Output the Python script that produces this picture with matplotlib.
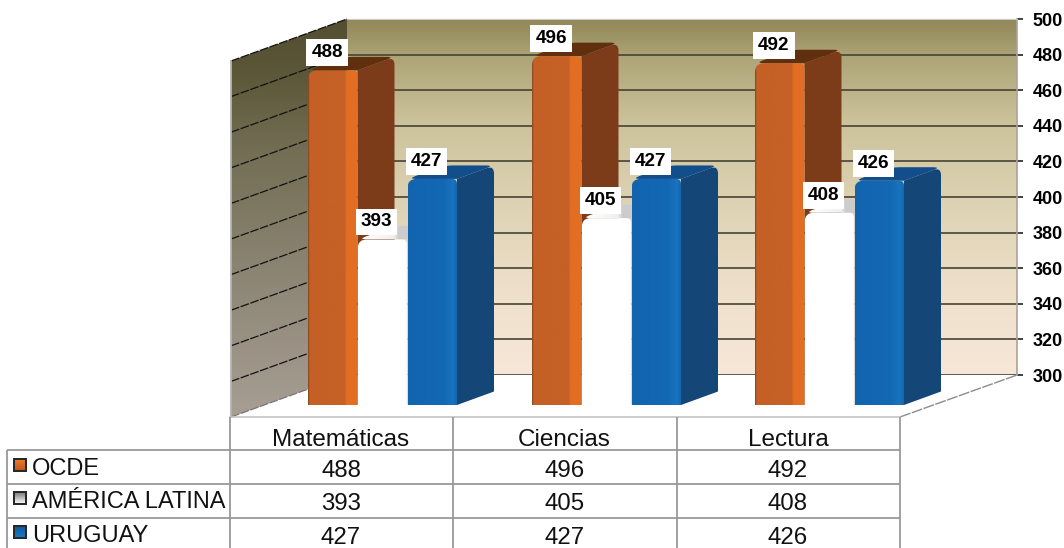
import numpy as np
import matplotlib
matplotlib.use("Agg")
import matplotlib.pyplot as plt
from matplotlib.colors import LinearSegmentedColormap as LSC
from matplotlib.patches import PathPatch, Rectangle
from matplotlib.path import Path

categories = ["Matemáticas", "Ciencias", "Lectura"]
series_names = ["OCDE", "AMÉRICA LATINA", "URUGUAY"]
ocde = [488, 496, 492]
america_latina = [393, 405, 408]
uruguay = [427, 427, 426]
y_ticks = list(range(300, 501, 20))

plt.rcParams["font.family"] = ["Liberation Sans", "DejaVu Sans"]
W, H = 1064, 548
K = 356 / 200            # pixels per value unit
BASE_PX = 405            # pixel row of the value 300 on the bar front plane
fig = plt.figure(figsize=(W / 100, H / 100), dpi=100, facecolor="white")


def rgb(*c):
    return tuple(i / 255 for i in c)


def cmap(stops):
    return LSC.from_list("g", [(p, rgb(*c)) for p, c in stops])


def rounded(pts, radii):
    """Polygon with rounded corners; radii in pixels, y in value units."""
    P = np.array(pts, float) * [1, K]
    verts, codes = [], []
    n = len(P)
    for i in range(n):
        v, a, b, r = P[i], P[i - 1], P[(i + 1) % n], radii[i]
        if r == 0:
            verts.append(v)
            codes.append(Path.LINETO)
        else:
            ua = (a - v) / np.linalg.norm(a - v)
            ub = (b - v) / np.linalg.norm(b - v)
            verts += [v + r * ua, v, v + r * ub]
            codes += [Path.LINETO, Path.CURVE3, Path.CURVE3]
    codes[0] = Path.MOVETO
    verts.append(verts[0])
    codes.append(Path.CLOSEPOLY)
    return Path(np.array(verts) / [1, K], codes)


def grad_patch(ax, path, cm, z, horizontal=False):
    e = path.get_extents()
    g = np.linspace(0, 1, 256)
    arr = g[None, :] if horizontal else g[::-1][:, None]
    patch = PathPatch(path, fc="none", ec="none", zorder=z)
    ax.add_patch(patch)
    im = ax.imshow(arr, cmap=cm, vmin=0, vmax=1, aspect="auto", zorder=z,
                   extent=(e.x0, e.x1, e.y0, e.y1), interpolation="bilinear")
    im.set_clip_path(patch)


# ---------- back wall: a real axis with the 300-500 scale ----------
back = fig.add_axes([347 / W, 1 - 375 / H, (1017 - 347) / W, (375 - 19) / H], zorder=1)
wall = cmap([(0, (246, 231, 216)), (0.2, (240, 225, 205)), (0.5, (220, 210, 178)),
             (0.72, (203, 193, 153)), (0.9, (172, 163, 118)), (1, (145, 135, 88))])
back.imshow(np.linspace(0, 1, 256)[::-1][:, None], cmap=wall, aspect="auto",
            extent=(0, 1, 300, 500), zorder=0)
back.set_xlim(0, 1)
back.set_ylim(300, 500)
back.set_xticks([])
back.set_yticks(y_ticks)
back.yaxis.tick_right()
back.tick_params(axis="y", length=4.3, width=1.2, color="#222222", pad=7)
for t in back.get_yticklabels():
    t.set_fontsize(13)
    t.set_fontweight("bold")
back.grid(axis="y", color=rgb(70, 66, 52), lw=1.2, zorder=1)
for s in ("left", "bottom"):
    back.spines[s].set_visible(False)
back.spines["top"].set_color("#c8c8c8")
back.spines["right"].set_color("#a8a597")
back.spines["right"].set_linewidth(1.2)

# ---------- overlay in pixel-x / value-y ----------
ax = fig.add_axes([0, 0, 1, 1], zorder=2)
ax.patch.set_alpha(0)
ax.axis("off")
ax.set_xlim(0, W)
ax.set_ylim(300 - (H - BASE_PX) / K, 300 + BASE_PX / K)

FRONT_OFF = -12 / K      # value shift of the front floor edge against the bars
BACK_OFF = 30 / K        # value shift of the back wall against the bars
XF, XB = 231, 347
XR_F, XR_B = 900, 1017

left_pts = [(XF, 300 + FRONT_OFF), (XF, 500 + FRONT_OFF), (XB, 500 + BACK_OFF), (XB, 300 + BACK_OFF)]
left_cm = cmap([(0, (168, 158, 148)), (0.4, (137, 130, 112)), (0.7, (112, 107, 80)),
                (0.88, (90, 85, 54)), (1, (84, 79, 48))])
grad_patch(ax, rounded(left_pts, [0, 0, 0, 0]), left_cm, 2)
for v in y_ticks:
    solid_col = "#111111" if v > 300 else "#777777"
    ax.plot([XF, XB], [v + FRONT_OFF, v + BACK_OFF], color=solid_col, lw=0.9,
            dashes=(7, 1.2), zorder=3)
ax.plot([XR_F, XR_B], [300 + FRONT_OFF, 300 + BACK_OFF], color="#8c8c8c", lw=1.0,
        dashes=(8, 1.0), zorder=3)
ax.plot([XF, XF], [300 + FRONT_OFF, 500 + FRONT_OFF], color="#b4b4b4", lw=1.3, zorder=3)

# ---------- bars ----------
group_left = [308, 532, 755]
BW, STEP, DX = 49.5, 99.5 / 2, 37
DY = 13.5 / K
styles = [
    dict(front=[(0, (120, 65, 30)), (0.03, (196, 96, 38)), (0.74, (198, 97, 38)),
                (0.77, (226, 110, 35)), (0.97, (226, 110, 35)), (1, (205, 120, 70))],
         side=(125, 60, 25), top=(96, 48, 14)),
    dict(front=[(0, (255, 255, 255)), (0.96, (255, 255, 255)), (1, (232, 232, 232))],
         side=(205, 205, 205), top=None),
    dict(front=[(0, (18, 100, 175)), (0.72, (20, 105, 180)), (0.9, (24, 115, 190)),
                (1, (20, 100, 170))],
         side=(20, 70, 120), top=(18, 78, 140)),
]
top_white = [(0, (255, 255, 255)), (0.4, (240, 240, 240)), (0.46, (205, 205, 205)), (1, (200, 200, 200))]
series = [ocde, america_latina, uruguay]
z = 4
for g, gx in enumerate(group_left):
    for s, (vals, st) in enumerate(zip(series, styles)):
        x = gx + s * STEP
        v = vals[g]
        side = rounded([(x + BW, 300), (x + BW, v), (x + BW + DX, v + DY), (x + BW + DX, 300 + DY)],
                       [0, 0, 8, 0])
        ax.add_patch(PathPatch(side, fc=rgb(*st["side"]), ec="none", zorder=z))
        top = rounded([(x, v), (x + BW, v), (x + BW + DX, v + DY), (x + DX, v + DY)], [9, 0, 8, 8])
        if st["top"] is None:
            grad_patch(ax, top, cmap(top_white), z + 0.1, horizontal=True)
        else:
            ax.add_patch(PathPatch(top, fc=rgb(*st["top"]), ec="none", zorder=z + 0.1))
        front = rounded([(x, 300), (x, v), (x + BW, v), (x + BW, 300)], [0, 9, 5, 0])
        grad_patch(ax, front, cmap(st["front"]), z + 0.2, horizontal=True)
        z += 1

for g, gx in enumerate(group_left):
    for s, vals in enumerate(series):
        ax.annotate(str(vals[g]), (gx + s * STEP + 19, vals[g]), xytext=(0, 12.6),
                    textcoords="offset points", ha="center", va="center",
                    fontsize=13.6, fontweight="bold", color="black", zorder=50,
                    bbox=dict(boxstyle="square,pad=0.26", fc="white", ec="none"))

# ---------- data table in pixel coordinates ----------
tb = fig.add_axes([0, 0, 1, 1], zorder=3)
tb.patch.set_alpha(0)
tb.axis("off")
tb.set_xlim(0, W)
tb.set_ylim(H, 0)
col_x = [230, 453, 677, 900]
row_y = [417, 450, 484, 518]
line = dict(color="#9a9a9a", lw=1.3, solid_capstyle="butt")
tb.plot([col_x[0], col_x[-1]], [row_y[0], row_y[0]], color="#c4c4c4", lw=1.2)
for y in row_y[1:]:
    tb.plot([7, col_x[-1]], [y, y], **line)
for x in col_x:
    tb.plot([x, x], [row_y[0], H], **line)
tb.plot([7, 7], [row_y[1], H], **line)
centers = [(col_x[i] + col_x[i + 1]) / 2 for i in range(3)]
row_c = [471, 504, 538]
for c, name in zip(centers, categories):
    tb.text(c - 0.5, 440, name, ha="center", va="center", fontsize=17.5, color="#111111")
swatch = [[(0, (235, 120, 40)), (1, (190, 90, 30))],
          [(0, (130, 130, 130)), (1, (245, 245, 245))],
          [(0, (15, 90, 160)), (1, (25, 120, 195))]]
for r, (name, vals) in enumerate(zip(series_names, series)):
    y = row_c[r]
    tb.text(32, y - 2, name, ha="left", va="center", fontsize=17, color="#111111")
    for c, v in zip(centers, vals):
        tb.text(c - 0.5, y, str(v), ha="center", va="center", fontsize=17.3, color="#111111")
    tb.add_patch(Rectangle((13, y - 13), 14, 14, fc=rgb(40, 40, 40), ec="none", zorder=4))
    e_x0, e_x1, e_y0, e_y1 = 15, 25, y - 11, y - 1
    tb.imshow(np.linspace(0, 1, 64)[:, None], cmap=cmap(swatch[r]), aspect="auto", zorder=5,
              extent=(e_x0, e_x1, e_y1, e_y0))
tb.set_xlim(0, W)
tb.set_ylim(H, 0)

fig.savefig("out.png", dpi=100, facecolor="white")
